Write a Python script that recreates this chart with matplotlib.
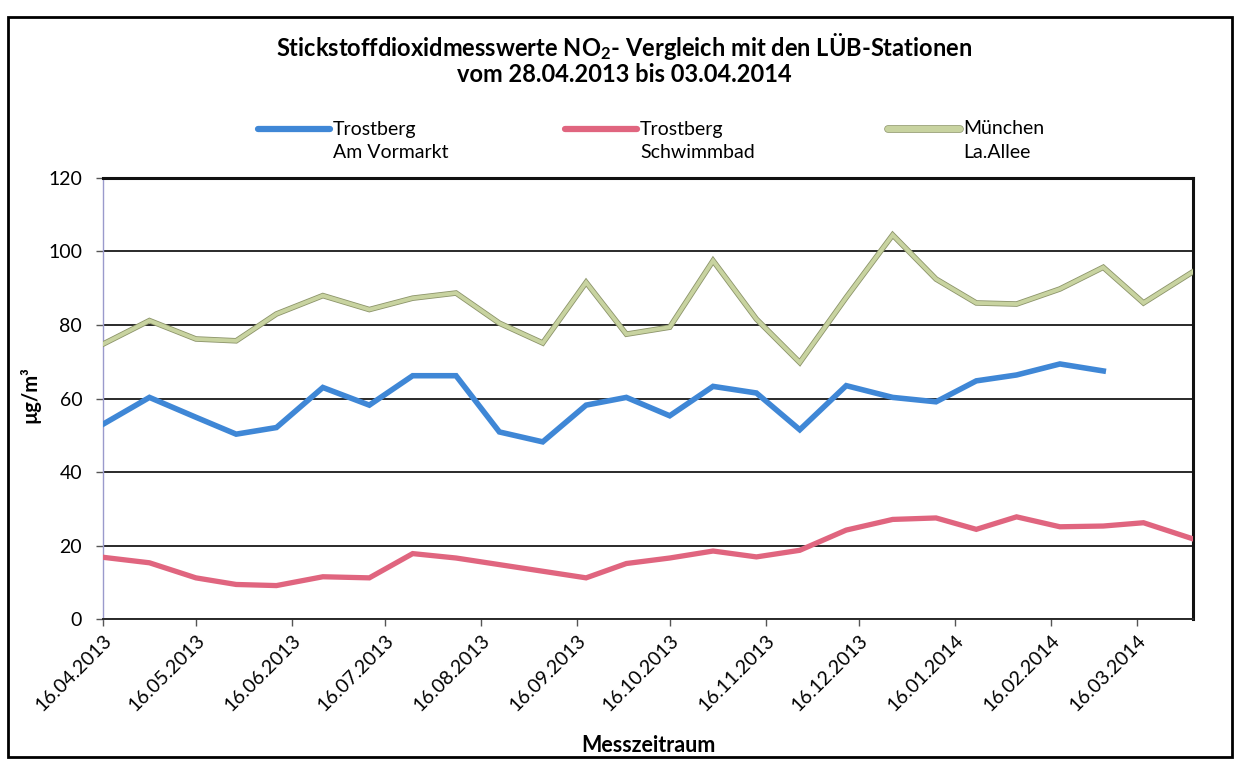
import numpy as np
import pandas as pd
from matplotlib import use
use('Agg')
import matplotlib.pyplot as plt
import matplotlib.dates as mdates
import matplotlib.patheffects as pe
from matplotlib.lines import Line2D
from matplotlib.patches import Rectangle

plt.rcParams['font.family'] = ['Lato', 'DejaVu Sans']
plt.rcParams['mathtext.fontset'] = 'custom'
plt.rcParams['mathtext.default'] = 'bf'
plt.rcParams['mathtext.bf'] = 'Lato:bold'

# Messtermine (ca. 14-taegig)
datum = ['16.04.2013', '01.05.2013', '16.05.2013', '29.05.2013', '11.06.2013',
         '26.06.2013', '11.07.2013', '25.07.2013', '08.08.2013', '22.08.2013',
         '05.09.2013', '19.09.2013', '02.10.2013', '16.10.2013', '30.10.2013',
         '13.11.2013', '27.11.2013', '12.12.2013', '27.12.2013', '10.01.2014',
         '23.01.2014', '05.02.2014', '19.02.2014', '05.03.2014', '18.03.2014',
         '03.04.2014']

am_vormarkt = [53.0, 60.3, 54.9, 50.3, 52.1, 63.0, 58.2, 66.2, 66.2, 50.9,
               48.2, 58.2, 60.3, 55.3, 63.3, 61.5, 51.5, 63.5, 60.3, 59.1,
               64.8, 66.4, 69.4, 67.5, np.nan, np.nan]
schwimmbad = [16.8, 15.3, 11.2, 9.4, 9.1, 11.5, 11.2, 17.8, 16.6, 14.8,
              13.0, 11.2, 15.1, 16.6, 18.5, 16.9, 18.7, 24.2, 27.1, 27.5,
              24.4, 27.8, 25.1, 25.3, 26.2, 21.8]
la_allee = [74.8, 81.2, 76.2, 75.7, 83.0, 88.0, 84.2, 87.3, 88.7, 80.5,
            75.1, 91.6, 77.5, 79.4, 97.5, 81.6, 69.8, 87.5, 104.5, 92.5,
            86.0, 85.7, 89.8, 95.7, 86.0, 94.5]

namen = ['Trostberg\nAm Vormarkt', 'Trostberg\nSchwimmbad', 'München\nLa.Allee']
farben = ['#3F87D6', '#E0657F', '#C8D3A0']

x = pd.to_datetime(datum, format='%d.%m.%Y')

fig = plt.figure(figsize=(12.38, 7.6), dpi=100)
ax = fig.add_axes([0.0832, 0.1855, 0.8805, 0.5803])

ax.plot(x, am_vormarkt, color=farben[0], lw=4.0, solid_joinstyle='miter', zorder=4)
ax.plot(x, schwimmbad, color=farben[1], lw=3.8, solid_joinstyle='miter', zorder=4)
ax.plot(x, la_allee, color=farben[2], lw=2.8, solid_joinstyle='miter', zorder=4,
        path_effects=[pe.Stroke(linewidth=4.0, foreground='#8C946A'), pe.Normal()])

ax.set_ylim(0, 120)
ax.set_yticks(np.arange(0, 121, 20))
ax.set_xlim(pd.Timestamp('2013-04-16'), pd.Timestamp('2014-04-03'))
ticks = pd.date_range('2013-04-01', '2014-03-01', freq='MS') + pd.Timedelta(days=15)
ax.set_xticks(ticks)
ax.xaxis.set_major_formatter(mdates.DateFormatter('%d.%m.%Y'))
plt.setp(ax.get_xticklabels(), rotation=45, ha='right', rotation_mode='anchor')

ax.grid(axis='y', color='#2a2a2a', lw=1.4)
ax.set_axisbelow(True)
ax.tick_params(axis='y', labelsize=14, length=5, width=1, color='#555555', pad=10)
ax.tick_params(axis='x', labelsize=14, length=5, width=1, color='#555555', pad=4)

ax.spines['top'].set_linewidth(2.2)
ax.spines['top'].set_color('#111111')
ax.spines['right'].set_linewidth(2.2)
ax.spines['right'].set_color('#111111')
ax.spines['bottom'].set_linewidth(1.4)
ax.spines['bottom'].set_color('#2a2a2a')
ax.spines['left'].set_linewidth(1.0)
ax.spines['left'].set_color('#9A9ACC')

fig.text(0.0242, 1 - 395 / 760, 'µg/m³', rotation=90, ha='center', va='center',
         fontsize=14.5, fontweight='bold')
fig.text(648 / 1238, 1 - 745 / 760, 'Messzeitraum', ha='center', va='center',
         fontsize=15.5, fontweight='bold')

fig.text(624 / 1238, 1 - 47 / 760,
         r'Stickstoffdioxidmesswerte NO$_2$- Vergleich mit den LÜB-Stationen',
         ha='center', va='center', fontsize=17, fontweight='bold')
fig.text(624 / 1238, 1 - 75 / 760, 'vom 28.04.2013 bis 03.04.2014',
         ha='center', va='center', fontsize=17, fontweight='bold')

# Legende
leg_x = [258, 565, 888]
for i in range(3):
    x0 = leg_x[i] / 1238
    x1 = (leg_x[i] + 72) / 1238
    yl = 1 - 129 / 760
    kw = {}
    if i == 2:
        kw['path_effects'] = [pe.Stroke(linewidth=5.5, foreground='#8C946A'), pe.Normal()]
    fig.add_artist(Line2D([x0, x1], [yl, yl], color=farben[i], lw=4.5,
                          solid_capstyle='round', transform=fig.transFigure, **kw))
    zeilen = namen[i].split('\n')
    fig.text((leg_x[i] + 75) / 1238, yl, zeilen[0], ha='left', va='center', fontsize=14)
    fig.text((leg_x[i] + 75) / 1238, 1 - 152 / 760, zeilen[1], ha='left', va='center',
             fontsize=14)

fig.add_artist(Rectangle((8 / 1238, 3 / 760), 1224 / 1238, 740 / 760, fill=False,
                         ec='black', lw=2, transform=fig.transFigure))

fig.savefig('out.png', dpi=100)
